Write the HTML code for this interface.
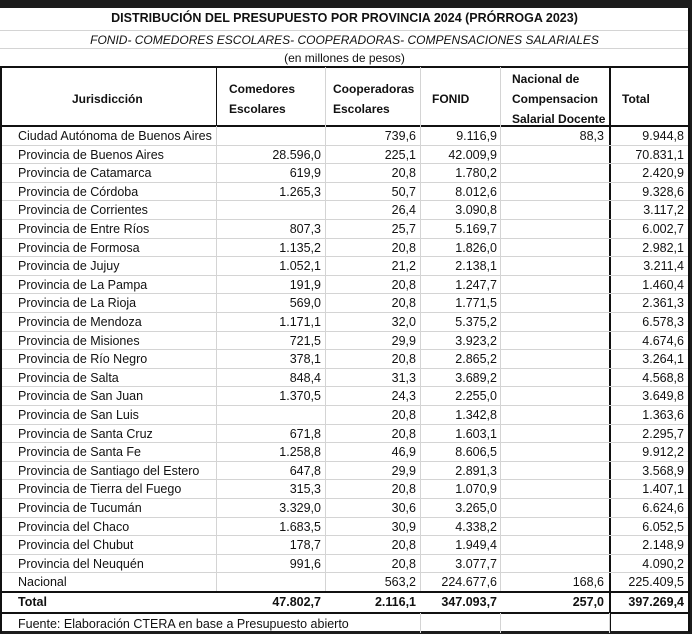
<!DOCTYPE html>
<html><head><meta charset="utf-8"><style>
body{margin:0;width:692px;height:634px;background:#1c1c1c;overflow:hidden;font-family:"Liberation Sans",sans-serif;}
#w{position:absolute;left:0;top:8px;width:690px;height:623px;background:#fff;}
.t{position:absolute;white-space:nowrap;color:#111;}
.l{position:absolute;background:#d4d4d4;}
.b{position:absolute;background:#111;}
</style></head><body><div id="w"></div>
<div id="c"></div>
<script>
const c=document.getElementById('c');let h='';
function T(x,y,s,st){h+=`<div class="t" style="left:${x}px;top:${y}px;${st||''}">${s}</div>`;}
function R(x,y,s,st){h+=`<div class="t" style="right:${692-x}px;top:${y}px;${st||''}">${s}</div>`;}
function L(cls,x,y,w,hh){h+=`<div class="${cls}" style="left:${x}px;top:${y}px;width:${w}px;height:${hh}px"></div>`;}
T(0,11,'DISTRIBUCIÓN DEL PRESUPUESTO POR PROVINCIA 2024 (PRÓRROGA 2023)','width:689px;text-align:center;font-weight:bold;font-size:12.5px');
T(0,33,'FONID- COMEDORES ESCOLARES- COOPERADORAS- COMPENSACIONES SALARIALES','width:689px;text-align:center;font-style:italic;font-size:12px');
T(0,51,'(en millones de pesos)','width:689px;text-align:center;font-size:12px');
L('l',0,30,690,1);L('l',0,48,690,1);
L('b',0,66,690,2);L('b',0,125,690,2);
const xs=[216,325,420,500,609];
xs.forEach(x=>{L(x==609?'b':'l',x,67,x==609?2:1,x==609?564:524);});
[216,325,420,500].forEach(x=>L('l',x,67,1,59));
L('b',216,67,1,59);L('b',609,67,2,59);
L('b',0,67,2,566);L('b',688,8,2,624);
const hs='font-weight:bold;font-size:12px;line-height:20px';
T(72,89,'Jurisdicción',hs);
T(229,79,'Comedores<br>Escolares',hs);
T(333,79,'Cooperadoras<br>Escolares',hs);
T(432,89,'FONID',hs);
T(512,69,'Nacional de<br>Compensacion<br>Salarial Docente',hs);
T(622,89,'Total',hs);
const d=[["Ciudad Autónoma de Buenos Aires","","739,6","9.116,9","88,3","9.944,8"],
["Provincia de Buenos Aires","28.596,0","225,1","42.009,9","","70.831,1"],
["Provincia de Catamarca","619,9","20,8","1.780,2","","2.420,9"],
["Provincia de Córdoba","1.265,3","50,7","8.012,6","","9.328,6"],
["Provincia de Corrientes","","26,4","3.090,8","","3.117,2"],
["Provincia de Entre Ríos","807,3","25,7","5.169,7","","6.002,7"],
["Provincia de Formosa","1.135,2","20,8","1.826,0","","2.982,1"],
["Provincia de Jujuy","1.052,1","21,2","2.138,1","","3.211,4"],
["Provincia de La Pampa","191,9","20,8","1.247,7","","1.460,4"],
["Provincia de La Rioja","569,0","20,8","1.771,5","","2.361,3"],
["Provincia de Mendoza","1.171,1","32,0","5.375,2","","6.578,3"],
["Provincia de Misiones","721,5","29,9","3.923,2","","4.674,6"],
["Provincia de Río Negro","378,1","20,8","2.865,2","","3.264,1"],
["Provincia de Salta","848,4","31,3","3.689,2","","4.568,8"],
["Provincia de San Juan","1.370,5","24,3","2.255,0","","3.649,8"],
["Provincia de San Luis","","20,8","1.342,8","","1.363,6"],
["Provincia de Santa Cruz","671,8","20,8","1.603,1","","2.295,7"],
["Provincia de Santa Fe","1.258,8","46,9","8.606,5","","9.912,2"],
["Provincia de Santiago del Estero","647,8","29,9","2.891,3","","3.568,9"],
["Provincia de Tierra del Fuego","315,3","20,8","1.070,9","","1.407,1"],
["Provincia de Tucumán","3.329,0","30,6","3.265,0","","6.624,6"],
["Provincia del Chaco","1.683,5","30,9","4.338,2","","6.052,5"],
["Provincia del Chubut","178,7","20,8","1.949,4","","2.148,9"],
["Provincia del Neuquén","991,6","20,8","3.077,7","","4.090,2"],
["Nacional","","563,2","224.677,6","168,6","225.409,5"]];
const rh=18.6,ds='font-size:12.5px;line-height:18px';
const rx=[321,416,497,604,684];
d.forEach((r,i)=>{const y=127+i*rh;
 T(18,y,r[0],ds);for(let k=1;k<6;k++)if(r[k])R(rx[k-1],y,r[k],ds);
 if(i<24)L('l',2,Math.round(y+rh)-1,686,1);});
const ty=127+25*rh;
L('b',0,Math.round(ty)-1,690,2);
const bs='font-size:12.5px;line-height:18px;font-weight:bold';
T(18,ty+1,'Total',bs);
["47.802,7","2.116,1","347.093,7","257,0","397.269,4"].forEach((v,k)=>R(rx[k],ty+1,v,bs));
L('b',0,Math.round(ty+rh)+1,690,2);
T(18,ty+rh+4,'Fuente: Elaboración CTERA en base a Presupuesto abierto',ds);
L('l',420,ty+rh+2,1,20);L('l',500,ty+rh+2,1,20);L('l',609,ty+rh+2,1,20);
c.innerHTML=h;
</script></body></html>
